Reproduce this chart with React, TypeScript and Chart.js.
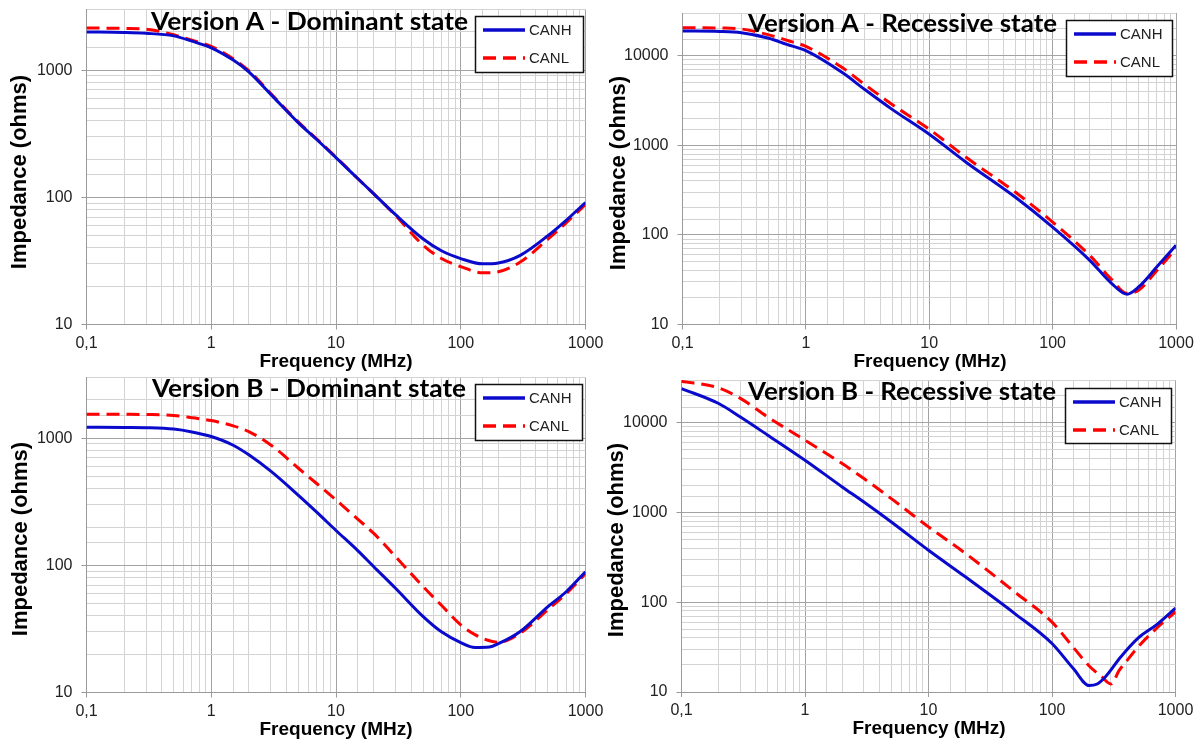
import React, { useEffect, useRef } from "react";
import { Chart, registerables } from "chart.js";

Chart.register(...registerables);

// ---------------- data ----------------
const SERIES_NAMES = ["CANH", "CANL"];
const X_MAJOR = [0.1, 1, 10, 100, 1000];
const X_LABELS = ["0,1", "1", "10", "100", "1000"];
const TITLES = [
  "Version A - Dominant state",
  "Version A - Recessive state",
  "Version B - Dominant state",
  "Version B - Recessive state",
];
const X_TITLE = "Frequency (MHz)";
const Y_TITLE = "Impedance (ohms)";
const Y_MAX = [3000, 30000, 3000, 30000];

// Version A - Dominant
const FREQ_A_DOM = [0.1, 0.2, 0.3, 0.5, 0.7, 1, 1.5, 2, 3, 5, 7, 10, 15, 20, 30, 50, 70, 100, 150, 200, 300, 500, 700, 1000];
const CANH_A_DOM = [2000, 1980, 1950, 1860, 1690, 1500, 1200, 970, 645, 385, 285, 205, 140, 107, 73, 47, 38, 33, 30, 30.5, 35, 50, 66, 91];
const CANL_A_DOM = [2150, 2130, 2100, 1900, 1720, 1540, 1230, 990, 655, 390, 288, 207, 140, 107, 72, 42, 33, 28.5, 25.5, 26, 31, 47, 63, 88];

// Version A - Recessive
const FREQ_A_REC = [0.1, 0.2, 0.3, 0.5, 0.7, 1, 2, 3, 5, 10, 20, 50, 100, 200, 300, 400, 500, 700, 1000];
const CANH_A_REC = [18900, 18700, 18100, 15700, 13400, 11400, 6400, 4200, 2520, 1330, 644, 263, 122, 52, 28.8, 21.8, 26.4, 44, 76.6];
const CANL_A_REC = [20600, 20400, 19900, 17100, 14900, 12700, 7280, 4770, 2860, 1510, 731, 299, 139, 59, 31.9, 22.3, 24.3, 40, 70.5];

// Version B - Dominant
const FREQ_B_DOM = [0.1, 0.2, 0.3, 0.5, 0.7, 1, 1.5, 2, 3, 5, 7, 10, 15, 20, 30, 50, 70, 100, 130, 170, 200, 300, 500, 700, 1000];
const CANH_B_DOM = [1220, 1215, 1210, 1180, 1120, 1030, 880, 740, 550, 355, 262, 188, 130, 98, 66, 39.5, 30, 24.7, 22.6, 22.8, 24.2, 30.2, 47.4, 62, 89];
const CANL_B_DOM = [1545, 1540, 1535, 1510, 1450, 1375, 1250, 1127, 885, 580, 440, 327, 230, 179, 117, 68, 48.5, 34, 28.5, 25.5, 24.8, 29.3, 44.8, 60, 86];

// Version B - Recessive
const FREQ_B_REC_H = [0.1, 0.2, 0.3, 0.5, 1, 2, 3, 5, 10, 20, 50, 100, 150, 200, 230, 270, 360, 500, 700, 1000];
const CANH_B_REC = [24100, 16400, 11600, 7280, 3830, 1930, 1310, 785, 380, 191, 74.8, 34.7, 18, 11.8, 12.2, 14.7, 24.5, 40, 56, 86];
const FREQ_B_REC_L = [0.1, 0.2, 0.3, 0.5, 1, 2, 3, 5, 10, 20, 50, 100, 150, 200, 250, 300, 350, 400, 500, 700, 1000];
const CANL_B_REC = [29000, 24500, 18700, 11600, 6400, 3510, 2390, 1430, 692, 349, 130, 60, 31, 19.5, 15, 12.3, 17.4, 22, 32, 51, 78];

const SERIES = [
  { fh: FREQ_A_DOM, h: CANH_A_DOM, fl: FREQ_A_DOM, l: CANL_A_DOM },
  { fh: FREQ_A_REC, h: CANH_A_REC, fl: FREQ_A_REC, l: CANL_A_REC },
  { fh: FREQ_B_DOM, h: CANH_B_DOM, fl: FREQ_B_DOM, l: CANL_B_DOM },
  { fh: FREQ_B_REC_H, h: CANH_B_REC, fl: FREQ_B_REC_L, l: CANL_B_REC },
];

// ---------------- layout (page pixels) ----------------
const LAYOUT = [
  {
    canvas: { x: 0, y: 0, w: 630, h: 372 },
    plot: { l: 86.5, t: 9.5, r: 585.5, b: 324.5 },
    title: { x: 151, base: 30, w: 317 },
    legend: { x: 475, y: 16, w: 108, h: 56 },
    yTitle: { x: 20, y: 172 },
    xTitle: { x: 336, y: 362 },
  },
  {
    canvas: { x: 600, y: 0, w: 604, h: 372 },
    plot: { l: 682.5, t: 13, r: 1176, b: 324.5 },
    title: { x: 748, base: 32, w: 309 },
    legend: { x: 1066, y: 20, w: 106, h: 56 },
    yTitle: { x: 619, y: 173 },
    xTitle: { x: 930, y: 362 },
  },
  {
    canvas: { x: 0, y: 372, w: 630, h: 370 },
    plot: { l: 86.5, t: 377.5, r: 585.5, b: 692.5 },
    title: { x: 152, base: 397, w: 314 },
    legend: { x: 475, y: 384, w: 107, h: 56 },
    yTitle: { x: 21, y: 539 },
    xTitle: { x: 336, y: 730 },
  },
  {
    canvas: { x: 600, y: 372, w: 604, h: 370 },
    plot: { l: 681.5, t: 380, r: 1175.5, b: 692 },
    title: { x: 748, base: 400, w: 308 },
    legend: { x: 1065, y: 388, w: 106, h: 55 },
    yTitle: { x: 617, y: 540 },
    xTitle: { x: 929, y: 729 },
  },
];

const BLUE = "#0a0acc";
const RED = "#ff0000";
const DASH = [13, 7];
const GRID_MAJOR = "#a3a3a3";
const GRID_MINOR = "#d3d3d3";
const AXIS = "#9a9a9a";
const TICK_FONT = "'Liberation Sans', Arial, sans-serif";

const isMajor = (v: number | undefined) => {
  if (v === undefined || v === null || v <= 0) return false;
  const l = Math.log10(v);
  return Math.abs(l - Math.round(l)) < 1e-6;
};

function Panel({ idx }: { idx: number }) {
  const ref = useRef<HTMLCanvasElement | null>(null);
  const L = LAYOUT[idx];
  const S = SERIES[idx];

  useEffect(() => {
    if (!ref.current) return;
    const c = L.canvas;
    const p = L.plot;

    const overlay = {
      id: "overlay" + idx,
      afterDraw(chart: any) {
        const ctx = chart.ctx as CanvasRenderingContext2D;
        const ox = c.x;
        const oy = c.y;
        // chart title
        ctx.save();
        ctx.font = "bold 25px Lato, 'Open Sans', sans-serif";
        ctx.fillStyle = "#000";
        ctx.textBaseline = "alphabetic";
        ctx.textAlign = "left";
        const t = TITLES[idx];
        const tw = ctx.measureText(t).width;
        ctx.translate(L.title.x - ox, L.title.base - oy);
        ctx.scale(L.title.w / tw, 1);
        ctx.fillText(t, 0, 0);
        ctx.restore();

        // y axis title
        ctx.save();
        ctx.font = "bold 22px 'Liberation Sans', Arial, sans-serif";
        ctx.fillStyle = "#000";
        ctx.textAlign = "center";
        ctx.textBaseline = "middle";
        ctx.translate(L.yTitle.x - ox, L.yTitle.y - oy);
        ctx.rotate(-Math.PI / 2);
        ctx.fillText(Y_TITLE, 0, 0);
        ctx.restore();

        // x axis title
        ctx.save();
        ctx.font = "bold 19px 'Liberation Sans', Arial, sans-serif";
        ctx.fillStyle = "#000";
        ctx.textAlign = "center";
        ctx.textBaseline = "middle";
        ctx.fillText(X_TITLE, L.xTitle.x - ox, L.xTitle.y - oy);
        ctx.restore();

        // legend
        const lg = L.legend;
        const lx = lg.x - ox;
        const ly = lg.y - oy;
        ctx.save();
        ctx.fillStyle = "#fff";
        ctx.fillRect(lx, ly, lg.w, lg.h);
        ctx.strokeStyle = "#111";
        ctx.lineWidth = 1.5;
        ctx.strokeRect(lx + 0.5, ly + 0.5, lg.w, lg.h);
        const rows = [ly + 14, ly + 42];
        SERIES_NAMES.forEach((name, k) => {
          ctx.beginPath();
          ctx.lineWidth = 3.5;
          ctx.strokeStyle = k === 0 ? BLUE : RED;
          ctx.setLineDash(k === 0 ? [] : DASH);
          ctx.moveTo(lx + 8, rows[k]);
          ctx.lineTo(lx + 50, rows[k]);
          ctx.stroke();
          ctx.setLineDash([]);
          ctx.font = "15px " + TICK_FONT;
          ctx.fillStyle = "#222";
          ctx.textAlign = "left";
          ctx.textBaseline = "middle";
          ctx.fillText(name, lx + 54, rows[k] + 1);
        });
        ctx.restore();
      },
    };

    const chart = new Chart(ref.current, {
      type: "line",
      data: {
        datasets: [
          {
            label: SERIES_NAMES[0],
            data: S.fh.map((f, i) => ({ x: f, y: S.h[i] })),
            borderColor: BLUE,
            borderWidth: 3,
            pointRadius: 0,
            fill: false,
            cubicInterpolationMode: "monotone",
          },
          {
            label: SERIES_NAMES[1],
            data: S.fl.map((f, i) => ({ x: f, y: S.l[i] })),
            borderColor: RED,
            borderWidth: 3,
            borderDash: DASH,
            pointRadius: 0,
            fill: false,
            cubicInterpolationMode: "monotone",
          },
        ],
      },
      options: {
        animation: false,
        responsive: false,
        maintainAspectRatio: false,
        events: [],
        layout: {
          padding: {
            top: p.t - c.y,
            right: c.x + c.w - p.r,
            left: 0,
            bottom: 0,
          },
        },
        plugins: {
          legend: { display: false },
          title: { display: false },
          tooltip: { enabled: false },
        },
        scales: {
          x: {
            type: "logarithmic",
            position: "bottom",
            min: 0.1,
            max: 1000,
            afterFit: (s: any) => {
              s.height = c.y + c.h - p.b;
              s.paddingLeft = 0;
              s.paddingRight = 0;
            },
            grid: {
              color: (ctx: any) => (isMajor(ctx.tick?.value) ? GRID_MAJOR : GRID_MINOR),
              tickColor: (ctx: any) => (isMajor(ctx.tick?.value) ? AXIS : "rgba(0,0,0,0)"),
              tickLength: 5,
              lineWidth: 1,
            },
            border: { display: true, color: AXIS, width: 1 },
            ticks: {
              autoSkip: false,
              maxRotation: 0,
              minRotation: 0,
              padding: 4,
              color: "#222",
              font: { family: TICK_FONT, size: 16 },
              callback: (v: any) => {
                const k = X_MAJOR.findIndex((m) => Math.abs(m - Number(v)) < 1e-9);
                return k >= 0 ? X_LABELS[k] : "";
              },
            },
          },
          y: {
            type: "logarithmic",
            position: "left",
            min: 10,
            max: Y_MAX[idx],
            afterFit: (s: any) => {
              s.width = p.l - c.x;
              s.paddingTop = 0;
              s.paddingBottom = 0;
            },
            grid: {
              color: (ctx: any) => (isMajor(ctx.tick?.value) ? GRID_MAJOR : GRID_MINOR),
              tickColor: (ctx: any) => (isMajor(ctx.tick?.value) ? AXIS : "rgba(0,0,0,0)"),
              tickLength: 5,
              lineWidth: 1,
            },
            border: { display: true, color: AXIS, width: 1 },
            ticks: {
              autoSkip: false,
              padding: 9,
              color: "#222",
              font: { family: TICK_FONT, size: 16 },
              callback: (v: any) => (isMajor(Number(v)) ? String(Math.round(Number(v))) : ""),
            },
          },
        },
      },
      plugins: [overlay],
    } as any);

    return () => chart.destroy();
  }, [idx]);

  return (
    <canvas
      ref={ref}
      width={L.canvas.w}
      height={L.canvas.h}
      style={{
        position: "absolute",
        left: L.canvas.x,
        top: L.canvas.y,
        width: L.canvas.w,
        height: L.canvas.h,
      }}
    />
  );
}

export default function App() {
  return (
    <div
      style={{
        position: "absolute",
        left: 0,
        top: 0,
        width: 1204,
        height: 742,
        background: "#fff",
        overflow: "hidden",
      }}
    >
      {[0, 1, 2, 3].map((i) => (
        <Panel key={i} idx={i} />
      ))}
    </div>
  );
}
